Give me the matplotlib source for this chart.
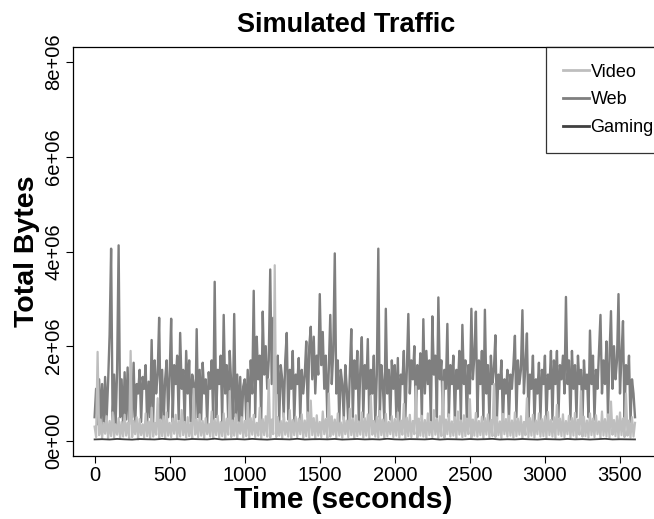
import numpy as np
import matplotlib
matplotlib.use("Agg")
import matplotlib.pyplot as plt

# traffic in kB, one sample every 10 s (gaming every 50 s)
step = 10
gaming_step = 50

web_kb = [
    500, 1100, 350, 1300, 400, 1200, 300, 1350, 450, 1250, 2250, 4060, 400, 1400, 350, 1500, 4130, 500, 1300, 300,
    1450, 450, 1550, 350, 1300, 500, 1650, 300, 1200, 1000, 1500, 400, 1350, 1100, 1600, 350, 1250, 500, 2130, 400,
    1700, 1000, 1400, 2600, 450, 1500, 350, 1300, 1700, 500, 1400, 2580, 400, 1600, 1200, 1800, 450, 2280, 1100, 1500,
    350, 1900, 1000, 1700, 400, 1400, 1200, 300, 2360, 500, 1500, 450, 1650, 1000, 1300, 350, 1450, 1100, 1700, 450,
    3360, 500, 1500, 1200, 1800, 400, 2660, 1000, 1600, 450, 1900, 1200, 350, 2680, 500, 1400, 400, 1350, 300, 1150,
    1300, 450, 1500, 350, 1700, 1000, 3170, 500, 2200, 1300, 1800, 400, 2730, 1400, 2000, 1100, 1700, 3620, 1200, 2600,
    1500, 1000, 1800, 400, 1600, 1300, 500, 1700, 2280, 450, 1500, 1100, 1900, 400, 1400, 1200, 1750, 450, 1500, 1000,
    1400, 2100, 500, 2000, 2410, 1300, 2200, 1000, 1800, 1400, 3100, 1600, 2300, 1100, 1800, 500, 1500, 2660, 1200, 1900,
    3960, 1000, 1700, 400, 1500, 1200, 450, 1600, 1100, 350, 1400, 2360, 500, 1700, 1100, 1900, 400, 1500, 2190, 500,
    1600, 1100, 2150, 400, 1500, 1000, 1800, 350, 1400, 4060, 500, 1600, 1200, 400, 2790, 1000, 1500, 450, 1700, 1100,
    1600, 500, 1750, 400, 1400, 1200, 1900, 450, 1500, 2680, 1000, 1700, 1300, 2000, 500, 1600, 1100, 1850, 450, 2570,
    1000, 1900, 1200, 1700, 400, 2630, 1400, 1800, 500, 3030, 1300, 1700, 450, 1500, 1100, 2470, 500, 1600, 1200, 1800,
    400, 1500, 1100, 1900, 450, 2450, 1200, 1700, 350, 1600, 1000, 2790, 1300, 1800, 2730, 500, 1700, 1200, 1900, 450,
    2770, 1000, 1600, 400, 1800, 1200, 1500, 2230, 450, 1400, 1100, 1700, 350, 1300, 1000, 1500, 400, 1400, 1100, 1600,
    2220, 500, 1700, 1200, 1500, 2760, 1000, 1600, 2270, 450, 1400, 1100, 1800, 400, 1300, 1000, 1650, 450, 1500, 1200,
    1800, 400, 1400, 1100, 1900, 450, 1700, 1200, 1900, 500, 1600, 1300, 1800, 1000, 3040, 1200, 1700, 450, 1900, 1100,
    1600, 500, 1800, 1200, 1500, 400, 1700, 1100, 1400, 500, 2330, 1200, 1800, 450, 1500, 1100, 1900, 2660, 1000, 1700,
    1200, 2100, 500, 1800, 2740, 1100, 2000, 1300, 1700, 3100, 1000, 1800, 2530, 500, 1600, 1200, 1800, 400, 1300, 1000,
    500,
]

video_kb = [
    300, 80, 1880, 120, 450, 60, 380, 150, 520, 40, 420, 100, 600, 70, 350, 130, 480, 50, 400, 90,
    550, 110, 380, 60, 1900, 80, 420, 140, 500, 30, 460, 120, 350, 70, 580, 100, 410, 50, 700, 90,
    380, 130, 900, 60, 450, 100, 520, 40, 600, 110, 380, 80, 470, 150, 550, 60, 420, 90, 650, 120,
    400, 70, 500, 100, 380, 50, 1100, 130, 450, 80, 560, 110, 420, 60, 480, 140, 360, 90, 620, 50,
    450, 120, 530, 70, 400, 100, 580, 40, 470, 130, 1050, 80, 430, 110, 560, 60, 390, 150, 500, 70,
    420, 100, 800, 60, 480, 130, 550, 80, 380, 110, 700, 50, 460, 120, 520, 90, 1300, 70, 450, 140,
    3710, 80, 500, 110, 420, 60, 580, 130, 390, 90, 650, 50, 440, 120, 510, 80, 470, 140, 560, 60,
    430, 100, 600, 70, 850, 120, 480, 50, 540, 110, 400, 80, 620, 140, 460, 60, 1000, 90, 520, 130,
    450, 70, 580, 110, 390, 60, 500, 140, 430, 80, 680, 120, 470, 50, 540, 100, 410, 130, 600, 70,
    480, 110, 560, 60, 950, 130, 420, 90, 510, 70, 630, 120, 450, 50, 570, 100, 400, 140, 520, 80,
    460, 110, 600, 70, 430, 130, 780, 60, 490, 100, 550, 80, 420, 140, 1150, 70, 470, 110, 530, 90,
    440, 60, 580, 120, 400, 80, 650, 130, 470, 50, 520, 100, 1250, 70, 450, 140, 560, 90, 410, 110,
    500, 60, 620, 130, 430, 80, 540, 100, 470, 140, 880, 70, 450, 110, 590, 90, 420, 120, 510, 60,
    480, 130, 560, 70, 440, 100, 1200, 80, 500, 120, 410, 60, 570, 140, 460, 90, 530, 110, 430, 70,
    600, 100, 470, 130, 520, 60, 400, 120, 900, 80, 480, 110, 550, 70, 430, 140, 580, 90, 460, 100,
    520, 70, 610, 120, 440, 90, 500, 60, 760, 130, 470, 100, 560, 80, 420, 140, 530, 70, 480, 110,
    590, 60, 450, 130, 1050, 90, 510, 100, 430, 70, 580, 120, 470, 80, 540, 140, 410, 60, 620, 110,
    460, 90, 560, 70, 830, 130, 440, 100, 520, 60, 600, 120, 470, 80, 1000, 110, 430, 70, 500, 90,
    380,
]

gaming_kb = [
    30, 35, 28, 40, 32, 26, 38, 33, 29, 42, 31, 36, 27, 39, 34, 30, 45, 28, 33, 37,
    29, 41, 32, 26, 38, 35, 30, 43, 28, 34, 36, 31, 40, 27, 33, 39, 30, 35, 29, 44,
    32, 28, 37, 34, 30, 41, 27, 36, 33, 29, 38, 31, 35, 42, 28, 34, 30, 39, 32, 27,
    37, 33, 29, 40, 31, 36, 28, 35, 43, 30, 34, 32, 30,
]

labels = ["Video", "Web", "Gaming"]
colors = ["#bebebe", "#7f7f7f", "#404040"]

web = np.array(web_kb) * 1000
video = np.array(video_kb) * 1000
gaming = np.array(gaming_kb) * 1000
t_web = np.arange(len(web)) * step
t_video = np.arange(len(video)) * step
t_gaming = np.arange(len(gaming)) * gaming_step

plt.rcParams["font.family"] = ["Liberation Sans", "DejaVu Sans"]

fig = plt.figure(figsize=(6.54, 5.19), dpi=100)
ax = fig.add_axes([0.1116, 0.1214, 0.8924, 0.788])

ax.plot(t_web, web, c=colors[1], lw=1.7)
ax.plot(t_video, video, c=colors[0], lw=1.6)
ax.plot(t_gaming, gaming, c=colors[2], lw=1.3)

ax.set_xlim(-144, 3744)
ax.set_ylim(-3.2e5, 8.32e6)
ax.set_xticks([0, 500, 1000, 1500, 2000, 2500, 3000, 3500])
ax.set_yticks([0, 2e6, 4e6, 6e6, 8e6])
ax.set_yticklabels(["0e+00", "2e+06", "4e+06", "6e+06", "8e+06"],
                   rotation=90, va="center")
ax.tick_params(labelsize=14.5, length=5, width=0.8, pad=2)
for s in ax.spines.values():
    s.set_linewidth(0.9)

fig.text(0.529, 0.952, "Simulated Traffic", ha="center", va="center",
         fontsize=19.5, fontweight="bold")
fig.text(0.525, 0.036, "Time (seconds)", ha="center", va="center",
         fontsize=21.5, fontweight="bold")
fig.text(0.042, 0.515, "Total Bytes", ha="center", va="center",
         rotation=90, fontsize=20.5, fontweight="bold")

handles = [plt.Line2D([], [], c=c, lw=2) for c in colors]
leg = ax.legend(handles, labels, loc="upper left", bbox_to_anchor=(0.8105, 1),
                borderaxespad=0, fancybox=False, edgecolor="black",
                fontsize=13, handlelength=1.45, handletextpad=0.1,
                labelspacing=0.6, borderpad=0.92)
leg.get_frame().set_linewidth(0.9)

fig.savefig("out.png", dpi=100)
